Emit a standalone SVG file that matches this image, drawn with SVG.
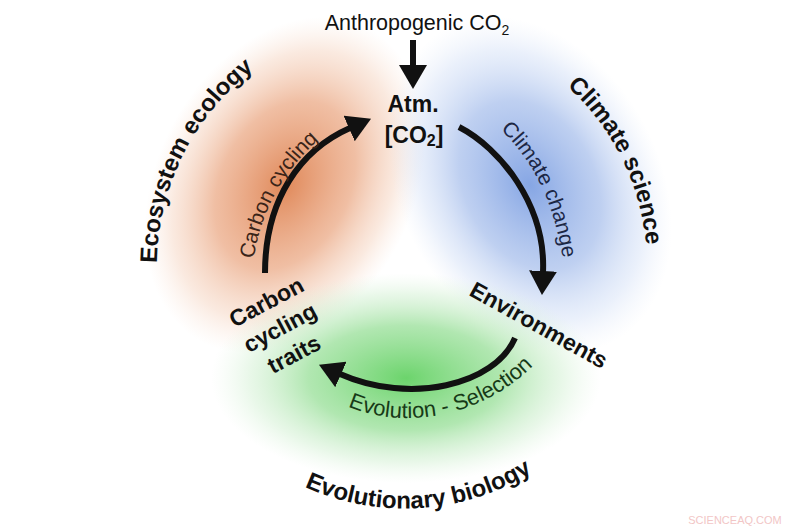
<svg xmlns="http://www.w3.org/2000/svg" xmlns:xlink="http://www.w3.org/1999/xlink" width="800" height="530" viewBox="0 0 800 530">
<style>
.bold{font-family:"Liberation Sans",Arial,sans-serif;font-weight:bold;font-size:23px;fill:#111}
.field{font-size:24px}
.reg{font-family:"Liberation Sans",Arial,sans-serif;font-size:21px}
.conn{fill:none;stroke:#111;stroke-width:6;stroke-linecap:butt}
</style>
<defs>
<radialGradient id="gOr"><stop offset="0" stop-color="#e0895a" stop-opacity="1"/><stop offset="0.5" stop-color="#eba985" stop-opacity="0.75"/><stop offset="0.8" stop-color="#f3c9b0" stop-opacity="0.4"/><stop offset="1" stop-color="#f8dccb" stop-opacity="0"/></radialGradient>
<radialGradient id="gBl"><stop offset="0" stop-color="#86a6e4" stop-opacity="1"/><stop offset="0.5" stop-color="#a9c0ec" stop-opacity="0.75"/><stop offset="0.8" stop-color="#cbdaf5" stop-opacity="0.4"/><stop offset="1" stop-color="#dfe8f8" stop-opacity="0"/></radialGradient>
<radialGradient id="gGr"><stop offset="0" stop-color="#6cd46c" stop-opacity="1"/><stop offset="0.5" stop-color="#97df97" stop-opacity="0.75"/><stop offset="0.8" stop-color="#c6ecc6" stop-opacity="0.4"/><stop offset="1" stop-color="#dcf3dc" stop-opacity="0"/></radialGradient>
<marker id="ah" viewBox="0 0 24 28" refX="1" refY="14" markerWidth="24" markerHeight="28" markerUnits="userSpaceOnUse" orient="auto"><path d="M0,0 L24,14 L0,28 z" fill="#111"/></marker>
<path id="pEco" d="M163.7,323.5 A248,248 0 0 1 306.5,38.4"/>
<path id="pCli" d="M501.5,44.1 A242,242 0 0 1 640.3,322.5"/>
<path id="pEvo" d="M262,462 A242,242 0 0 0 571.2,442"/>
<path id="pCc" d="M250,292 C254,215 284,160 345,120"/>
<path id="pCl" d="M480,112 C530,150 558,200 566,285"/>
<path id="pEs" d="M318,387 C370,436 492,432 556,338"/>
</defs>
<rect width="800" height="530" fill="#fff"/>
<g id="backgrounds">
<ellipse cx="285" cy="185" rx="128" ry="178" fill="url(#gOr)" transform="rotate(28 285 185)"/>
<ellipse cx="530" cy="185" rx="130" ry="178" fill="url(#gBl)" transform="rotate(-28 530 185)"/>
<ellipse cx="406" cy="378" rx="195" ry="105" fill="url(#gGr)"/>
</g>
<g id="fields">
<text class="bold field"><textPath xlink:href="#pEco" href="#pEco" startOffset="50%" text-anchor="middle">Ecosystem ecology</textPath></text>
<text class="bold field"><textPath xlink:href="#pCli" href="#pCli" startOffset="50%" text-anchor="middle">Climate science</textPath></text>
<text class="bold field"><textPath xlink:href="#pEvo" href="#pEvo" startOffset="50%" text-anchor="middle">Evolutionary biology</textPath></text>
</g>
<g id="connectors">
<path class="conn" d="M413,40 L413,66" marker-end="url(#ah)"/>
<path class="conn" d="M265,273 C265,200 300,150 350,128" marker-end="url(#ah)"/>
<path class="conn" d="M459,127 C500,148 546,205 543,272" marker-end="url(#ah)"/>
<path class="conn" d="M515,338 C495,385 410,405 340,374" marker-end="url(#ah)"/>
</g>
<g id="connector-labels">
<text class="reg" fill="#3a2418"><textPath xlink:href="#pCc" href="#pCc" startOffset="50%" text-anchor="middle">Carbon cycling</textPath></text>
<text class="reg" fill="#1c2744"><textPath xlink:href="#pCl" href="#pCl" startOffset="50%" text-anchor="middle">Climate change</textPath></text>
<text class="reg" fill="#173a17" style="font-size:22px"><textPath xlink:href="#pEs" href="#pEs" startOffset="50%" text-anchor="middle">Evolution - Selection</textPath></text>
</g>
<g id="node-anthropogenic">
<text class="reg" x="417" y="30" text-anchor="middle" fill="#111" style="font-size:21.5px">Anthropogenic CO<tspan font-size="14" dy="5">2</tspan></text>
</g>
<g id="node-atm">
<text class="bold" x="413" y="112" text-anchor="middle">Atm.</text>
<text class="bold" x="414" y="143" text-anchor="middle">[CO<tspan font-size="16" dy="3">2</tspan><tspan dy="-3">]</tspan></text>
</g>
<g id="node-environments">
<text class="bold" transform="translate(535,332) rotate(29)" text-anchor="middle">Environments</text>
</g>
<g id="node-traits">
<g transform="translate(270,309) rotate(-28)">
<text class="bold" x="0" y="0" text-anchor="middle">Carbon</text>
<text class="bold" x="0" y="29" text-anchor="middle">cycling</text>
<text class="bold" x="0" y="59" text-anchor="middle">traits</text>
</g>
</g>
<text x="735" y="524" text-anchor="middle" font-family="Liberation Sans, Arial, sans-serif" font-size="11" fill="#f2c6c6">SCIENCEAQ.COM</text>
</svg>
